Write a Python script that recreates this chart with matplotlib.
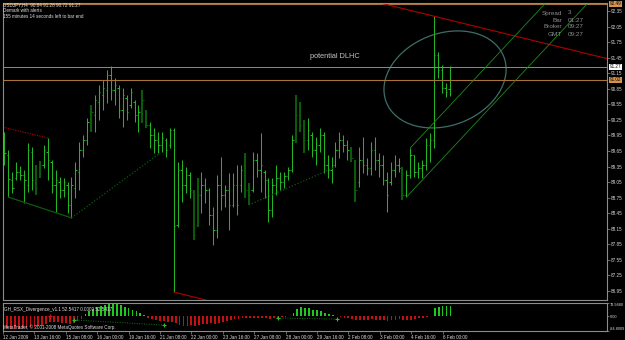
import numpy as np
import matplotlib.pyplot as plt
from matplotlib.patches import Ellipse
from matplotlib.transforms import ScaledTranslation

plt.rcParams['font.family'] = ['Liberation Sans', 'DejaVu Sans']

# USDJPY H4 bars, numbered from the first date tick
bar_no = np.arange(1, 115)
opens = [89.48, 89.57, 89.09, 89.13, 89.24, 89.19, 88.99, 89.63, 89.13, 89.28,
         89.38, 89.63, 89.44, 88.99, 89.05, 88.90, 88.99, 88.61, 88.94, 89.24,
         89.67, 89.86, 90.21, 90.34, 90.59, 90.73, 90.83, 91.12, 90.83, 90.86,
         90.44, 90.67, 90.54, 90.59, 90.34, 90.40, 90.40, 90.15, 89.96, 89.86,
         89.77, 89.86, 89.77, 90.05, 88.22, 89.28, 88.99, 89.19, 88.86, 88.22,
         88.80, 88.99, 88.90, 88.42, 88.13, 88.99, 88.80, 88.90, 88.61, 88.99,
         88.99, 89.38, 88.90, 88.90, 89.48, 89.28, 89.24, 89.09, 88.51, 88.99,
         89.13, 89.05, 89.17, 89.28, 89.86, 90.34, 90.15, 89.86, 89.96, 89.67,
         89.77, 89.96, 89.38, 89.28, 89.38, 89.67, 89.86, 89.77, 89.67, 89.48,
         89.05, 89.48, 89.38, 89.32, 89.67, 89.48, 89.38, 89.09, 89.05, 89.28,
         89.38, 89.32, 88.80, 89.19, 89.57, 89.24, 89.32, 89.38, 89.77, 89.86,
         91.50, 91.21, 90.86, 90.84]
highs = [90.02, 89.67, 89.24, 89.44, 89.36, 89.28, 89.80, 89.73, 89.38, 89.46,
         89.77, 89.90, 89.48, 89.28, 89.15, 89.13, 89.05, 89.15, 89.44, 89.82,
         89.96, 90.29, 90.54, 90.73, 90.92, 91.02, 91.21, 91.29, 91.06, 90.92,
         90.86, 90.73, 90.86, 90.63, 90.54, 90.83, 90.44, 90.21, 90.09, 90.02,
         90.02, 89.90, 90.09, 90.09, 89.44, 89.48, 89.34, 89.24, 88.90, 89.13,
         89.24, 89.13, 88.94, 88.57, 89.19, 89.53, 88.99, 89.23, 89.23, 89.38,
         89.38, 89.61, 89.03, 89.63, 89.61, 90.00, 89.28, 89.13, 89.13, 89.38,
         89.24, 89.24, 89.34, 89.96, 90.73, 90.59, 90.25, 90.29, 90.02, 89.92,
         90.09, 90.02, 89.57, 89.53, 89.82, 90.02, 89.96, 89.86, 89.73, 89.48,
         89.73, 89.92, 89.51, 89.82, 89.92, 89.61, 89.57, 89.24, 89.44, 89.57,
         89.51, 89.34, 89.28, 89.71, 89.57, 89.44, 89.48, 89.90, 90.00, 92.25,
         91.56, 91.31, 90.96, 91.28]
lows = [89.38, 88.76, 88.84, 89.09, 89.09, 88.65, 88.86, 88.90, 88.80, 89.13,
        89.32, 89.09, 88.84, 88.47, 88.74, 88.76, 88.45, 88.36, 88.74, 88.90,
        89.53, 89.77, 90.02, 90.02, 90.25, 90.44, 90.58, 90.63, 90.54, 90.29,
        90.11, 90.25, 90.48, 90.21, 90.02, 90.19, 90.09, 89.71, 89.61, 89.61,
        89.63, 89.53, 89.71, 86.93, 88.18, 88.67, 88.84, 88.74, 87.93, 88.18,
        88.45, 88.65, 88.22, 87.84, 87.97, 88.51, 88.57, 88.13, 88.57, 88.42,
        88.86, 88.74, 88.61, 88.86, 89.15, 88.86, 88.74, 88.28, 88.38, 88.80,
        88.90, 88.94, 89.09, 89.24, 89.80, 90.02, 89.61, 89.67, 89.53, 89.38,
        89.63, 89.23, 89.13, 89.03, 89.34, 89.51, 89.63, 89.48, 89.44, 88.67,
        88.96, 89.23, 89.19, 89.19, 89.28, 89.15, 88.99, 88.47, 88.99, 89.15,
        89.24, 88.70, 88.76, 89.13, 89.15, 89.13, 89.13, 89.28, 89.44, 89.71,
        91.06, 90.77, 90.69, 90.72]
closes = [89.61, 89.11, 88.94, 89.24, 89.19, 89.09, 89.67, 89.09, 88.94, 89.38,
          89.67, 89.48, 88.99, 89.09, 88.90, 89.05, 88.61, 88.99, 89.28, 89.67,
          89.86, 90.21, 90.40, 90.63, 90.79, 90.86, 91.12, 90.83, 90.92, 90.44,
          90.73, 90.40, 90.79, 90.34, 90.40, 90.63, 90.15, 89.96, 89.86, 89.77,
          89.90, 89.67, 90.05, 88.20, 89.28, 88.99, 89.19, 88.90, 88.03, 88.80,
          88.99, 88.90, 88.42, 88.13, 88.99, 88.80, 88.90, 88.61, 88.99, 88.61,
          89.28, 88.90, 88.80, 89.48, 89.28, 89.38, 89.09, 88.51, 88.99, 89.13,
          89.05, 89.17, 89.28, 89.86, 90.34, 90.15, 89.86, 90.05, 89.67, 89.77,
          89.96, 89.38, 89.28, 89.38, 89.67, 89.86, 89.77, 89.67, 89.51, 88.90,
          89.48, 89.38, 89.32, 89.67, 89.48, 89.38, 89.09, 88.80, 89.28, 89.38,
          89.32, 88.80, 89.19, 89.57, 89.24, 89.32, 89.38, 89.77, 89.86, 91.50,
          91.21, 90.86, 90.79, 91.27]
dark_bars = [9, 10, 23, 36, 37, 49, 50, 62, 63, 75, 76, 77, 89, 90, 102]

# GH_RSX_Divergence histogram
rsx = [-70, -72, -74, -72, -68, -66, -62, -60, -58, -55,
       -45, -35, -30, -32, -36, -40, -42, -38, -28, -12,
       15, 30, 45, 55, 62, 68, 74, 76, 72, 66,
       58, 48, 40, 30, 20, 10,
       -8, -15, -20, -25, -28, -32, -30, -40,
       -52, -58, -55, -50, -56, -52, -46, -42, -40, -46, -36, -30, -26, -22,
       -16, -12, -10, -8, -10, -8, -6, -8, -10, -12, -10, -8, -5, -3, 2,
       20, 45, 55, 52, 48, 40, 36, 30, 22, 12, 6, 3, -2,
       -8, -10, -14, -20, -22, -20, -18, -16, -18, -20, -22, -25, -22, -18,
       -16, -20, -22, -18, -12, -10, -8, -5,
       4,
       48, 58, 62, 60, 60]
rsx_max, rsx_min = 78.9480, -84.8009
div_green = [(18, -20), (41, -50), (70, -9), (85, -15)]
div_red = [(12, 3)]

price_ticks = np.round(np.arange(86.95, 92.36, 0.30), 2)
date_ticks = np.arange(0, 113, 8)
date_labels = ['12 Jan 2009', '13 Jan 16:00', '15 Jan 08:00', '16 Jan 00:00',
               '19 Jan 16:00', '21 Jan 08:00', '22 Jan 00:00', '23 Jan 16:00',
               '27 Jan 08:00', '28 Jan 00:00', '29 Jan 16:00', '2 Feb 08:00',
               '3 Feb 00:00', '4 Feb 16:00', '6 Feb 00:00']

bid_price = 91.27
level_price = 91.02
top_level = 92.49

# chart objects: (bar, price) end points
red_top = [(96, 92.51), (154, 91.43)]
red_bottom = [(44, 86.93), (56, 86.70)]
red_left = [(0.6, 90.11), (12, 89.90)]
chan_upper = [(104, 89.71), (140, 92.64)]
chan_lower = [(103, 88.76), (150, 92.58)]
green_low = [(2, 88.76), (18, 88.36)]
green_dot1 = [(18, 88.36), (40.5, 89.61)]
green_dot2 = [(63, 88.61), (85, 89.34)]
ell_center = (112.8, 91.03)

W, H = 625, 340
fig = plt.figure(figsize=(6.25, 3.4), dpi=100, facecolor='black')
ax = fig.add_axes([3 / W, 1 - 300 / H, 604 / W, 297 / H], facecolor='black')
ax2 = fig.add_axes([3 / W, 1 - 331 / H, 604 / W, 28 / H], facecolor='black')
xlim = (0.63, 153.9)

# price bars
x = bar_no
is_dark = np.isin(x, dark_bars)
cols = np.where(is_dark, '#0b5a0b', '#22b422')
lws = np.where(is_dark, 1.5, 0.75)
ax.vlines(x, lows, highs, colors=cols, linewidths=lws)
ax.hlines(opens, x - 0.35, x, colors=cols, linewidth=0.75)
ax.hlines(closes, x, x + 0.35, colors=cols, linewidth=0.75)

ax.axhline(bid_price, color='#8a8a8a', lw=0.7)
ax.axhline(level_price, color='#a8743a', lw=0.8)
ax.axhline(top_level, color='#a8743a', lw=0.8)

def seg(pts, **kw):
    xs, ys = zip(*pts)
    ax.plot(xs, ys, **kw)

seg(red_top, color='#b00000', lw=0.8)
seg(red_bottom, color='#b00000', lw=0.8)
seg(red_left, color='#a00000', lw=0.9, ls=(0, (1, 1)))
seg(chan_upper, color='#1c8a1c', lw=0.6)
seg(chan_lower, color='#1c8a1c', lw=0.6)
seg(green_low, color='#0c5a0c', lw=0.9)
seg(green_dot1, color='#0c5a0c', lw=0.9, ls=(0, (1, 1.5)))
seg(green_dot2, color='#0c5a0c', lw=0.9, ls=(0, (1, 1.5)))

ell = Ellipse((0, 0), 1.26, 0.92, angle=21, fill=False, edgecolor='#3e6e69', lw=0.9,
              transform=fig.dpi_scale_trans + ScaledTranslation(*ell_center, ax.transData))
ax.add_patch(ell)

ax.set_xlim(xlim)
ax.set_ylim(86.776, 92.504)
ax.yaxis.tick_right()
ax.set_yticks(price_ticks)
ax.set_yticklabels([f'{p:.2f}' for p in price_ticks])
ax.tick_params(axis='y', colors='#909090', labelcolor='#d8d8d8', labelsize=3.3,
               length=2, width=0.5, pad=1)
ax.tick_params(axis='x', bottom=False, labelbottom=False)

ytr = ax.get_yaxis_transform()
ax.text(1.004, bid_price, f'{bid_price:.2f}', transform=ytr, fontsize=3.3, va='center',
        color='black', bbox=dict(boxstyle='square,pad=0.15', fc='white', ec='none'))
ax.text(1.004, level_price, f'{level_price:.2f}', transform=ytr, fontsize=3.3, va='center',
        color='black', bbox=dict(boxstyle='square,pad=0.15', fc='#d7934a', ec='none'))
ax.text(1.004, top_level, f'{top_level:.2f}', transform=ytr, fontsize=3.3, va='center',
        color='black', bbox=dict(boxstyle='square,pad=0.15', fc='#d7934a', ec='none'))

# indicator window
ax2.bar(x, rsx, width=0.45, color=np.where(np.array(rsx) >= 0, '#1ec81e', '#c41010'))
gx, gy = zip(*div_green)
ax2.plot(gx[:2], gy[:2], color='#137a13', lw=0.7, ls=(0, (1, 1.5)))
ax2.plot(gx[2:], gy[2:], color='#137a13', lw=0.7, ls=(0, (1, 1.5)))
ax2.plot(gx, gy, ls='none', marker='+', ms=3, mew=0.8, color='#1ec81e')
rx, ry = zip(*div_red)
ax2.plot(rx, ry, ls='none', marker='+', ms=3, mew=0.8, color='#e01010')
ax2.set_xlim(xlim)
ax2.set_ylim(rsx_min, rsx_max)
ax2.yaxis.tick_right()
ax2.set_yticks([rsx_max, 0, rsx_min])
ax2.set_yticklabels([f'{rsx_max:.4f}', '0.00', f'{rsx_min:.4f}'])
ylabs = ax2.get_yticklabels()
ylabs[0].set_va('top')
ylabs[2].set_va('bottom')
ax2.tick_params(axis='y', colors='#909090', labelcolor='#d8d8d8', labelsize=2.8,
                length=1.5, width=0.5, pad=0.6)
ax2.set_xticks(date_ticks)
ax2.set_xticklabels(date_labels, ha='left')
ax2.tick_params(axis='x', colors='#909090', labelcolor='#d8d8d8', labelsize=3.3,
                length=2, width=0.5, pad=1)

for a in (ax, ax2):
    for s in a.spines.values():
        s.set_color('#8c8c8c')
        s.set_linewidth(0.8)

def ftext(px, py, s, **kw):
    fig.text(px / W, 1 - py / H, s, **kw)

ftext(3, 5, 'USDJPY,H4  90.84 91.28 90.72 91.27', fontsize=3.3, color='#e0e0e0', va='center')
ftext(3, 10.7, 'Demark with alerts', fontsize=3.3, color='#e0e0e0', va='center')
ftext(3, 16.5, '155 minutes 14 seconds left to bar end', fontsize=3.3, color='#e0e0e0', va='center')
ftext(310, 56, 'potential DLHC', fontsize=5.3, color='#c4c4c4', va='center')
for k, (lab, val) in enumerate([('Spread', '3'), ('Bar', '01:27'),
                                ('Broker', '09:27'), ('GMT', '09:27')]):
    ftext(562, 13 + 7 * k, lab, fontsize=4.6, color='#8c8c8c', va='center', ha='right')
    ftext(568, 13 + 7 * k, val, fontsize=4.6, color='#8c8c8c', va='center')
ftext(4, 309, 'GH_RSX_Divergence_v1.1 52.5417 0.0000 52.5417', fontsize=3.3,
      color='#e0e0e0', va='center')
ftext(3, 327.5, 'MetaTrader, \u00a9 2001-2008 MetaQuotes Software Corp.', fontsize=3.3,
      color='#e0e0e0', va='center')

fig.savefig('out.png', dpi=100, facecolor='black')
